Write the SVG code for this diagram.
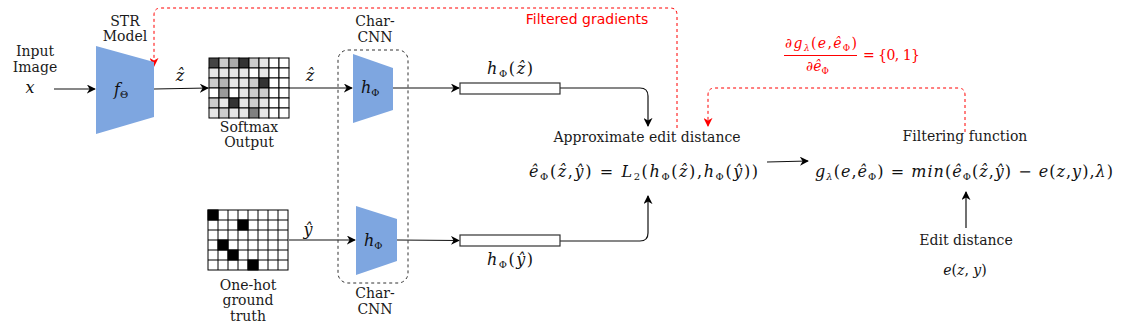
<svg xmlns="http://www.w3.org/2000/svg" width="1121" height="328" viewBox="0 0 1121 328">
<style>
.lbl{font-family:"DejaVu Serif","Liberation Serif",serif;font-size:14px;fill:#1a1a1a;text-anchor:middle}
.m{font-family:"DejaVu Serif","Liberation Serif",serif;font-size:16px;fill:#111}
.mc{text-anchor:middle}
.i{font-style:italic}
.sb{font-size:10px}
.red{fill:#ff0000}
.ln{fill:none;stroke:#111;stroke-width:1.2}
.rd{fill:none;stroke:#ff0000;stroke-width:1;stroke-dasharray:3 3}
.trap{fill:#7ea6e0}
.cell{stroke:#000;stroke-width:1}
.bar{fill:#fff;stroke:#333;stroke-width:1.2}
</style>
<defs>
<marker id="ab" viewBox="0 0 10 10" refX="9" refY="5" markerWidth="9" markerHeight="9" markerUnits="userSpaceOnUse" orient="auto"><path d="M0,0 L10,5 L0,10 L3,5 z" fill="#000"/></marker>
<marker id="ar" viewBox="0 0 10 10" refX="9" refY="5" markerWidth="9" markerHeight="9" markerUnits="userSpaceOnUse" orient="auto"><path d="M0,0 L10,5 L0,10 L3,5 z" fill="#ff0000"/></marker>
</defs>

<g id="connectors">
<path class="ln" d="M54,89 H95" marker-end="url(#ab)"/>
<path class="ln" d="M154,89 L208,88" marker-end="url(#ab)"/>
<path class="ln" d="M289,88 H352" marker-end="url(#ab)"/>
<path class="ln" d="M289,240 H355" marker-end="url(#ab)"/>
<path class="ln" d="M393,88 H459" marker-end="url(#ab)"/>
<path class="ln" d="M397,240 L459,240.5" marker-end="url(#ab)"/>
<path class="ln" d="M560,88 H640 Q648,88 648,96 V126" marker-end="url(#ab)"/>
<path class="ln" d="M560,241 H640 Q648,241 648,233 V196" marker-end="url(#ab)"/>
<path class="ln" d="M767,162 L808,161" marker-end="url(#ab)"/>
<path class="ln" d="M966,228 V192" marker-end="url(#ab)"/>
<path class="rd" d="M677,128 V15 Q677,8 670,8 H161 Q154,8 154,15 V66" marker-end="url(#ar)"/>
<path class="rd" d="M965,132 V95 Q965,88 958,88 H715 Q708,88 708,95 V126" marker-end="url(#ar)"/>
</g>

<g id="input">
<text class="lbl" x="35" y="56">Input</text>
<text class="lbl" x="35" y="72">Image</text>
<text class="m mc i" x="30" y="93">x</text>
</g>

<g id="str-model">
<text class="lbl" x="125" y="26">STR</text>
<text class="lbl" x="125" y="41">Model</text>
<polygon class="trap" points="96,46 154,62 154,117 96,134"/>
<text class="m" x="114" y="95"><tspan class="i">f</tspan><tspan class="sb" dy="3">Θ</tspan></text>
</g>

<g id="softmax">
<g class="cell">
<rect x="209" y="58" width="10" height="10" fill="#444"/><rect x="219" y="58" width="10" height="10" fill="#ccc"/><rect x="229" y="58" width="10" height="10" fill="#aaa"/><rect x="239" y="58" width="10" height="10" fill="#333"/><rect x="249" y="58" width="10" height="10" fill="#ccc"/><rect x="259" y="58" width="10" height="10" fill="#e6e6e6"/><rect x="269" y="58" width="10" height="10" fill="#fff"/><rect x="279" y="58" width="10" height="10" fill="#fff"/>
<rect x="209" y="68" width="10" height="10" fill="#e6e6e6"/><rect x="219" y="68" width="10" height="10" fill="#e6e6e6"/><rect x="229" y="68" width="10" height="10" fill="#e6e6e6"/><rect x="239" y="68" width="10" height="10" fill="#e6e6e6"/><rect x="249" y="68" width="10" height="10" fill="#fff"/><rect x="259" y="68" width="10" height="10" fill="#e6e6e6"/><rect x="269" y="68" width="10" height="10" fill="#fff"/><rect x="279" y="68" width="10" height="10" fill="#fff"/>
<rect x="209" y="78" width="10" height="10" fill="#ccc"/><rect x="219" y="78" width="10" height="10" fill="#b3b3b3"/><rect x="229" y="78" width="10" height="10" fill="#e6e6e6"/><rect x="239" y="78" width="10" height="10" fill="#e6e6e6"/><rect x="249" y="78" width="10" height="10" fill="#ccc"/><rect x="259" y="78" width="10" height="10" fill="#333"/><rect x="269" y="78" width="10" height="10" fill="#fff"/><rect x="279" y="78" width="10" height="10" fill="#fff"/>
<rect x="209" y="88" width="10" height="10" fill="#fff"/><rect x="219" y="88" width="10" height="10" fill="#999"/><rect x="229" y="88" width="10" height="10" fill="#fff"/><rect x="239" y="88" width="10" height="10" fill="#e6e6e6"/><rect x="249" y="88" width="10" height="10" fill="#ccc"/><rect x="259" y="88" width="10" height="10" fill="#ccc"/><rect x="269" y="88" width="10" height="10" fill="#fff"/><rect x="279" y="88" width="10" height="10" fill="#fff"/>
<rect x="209" y="98" width="10" height="10" fill="#ccc"/><rect x="219" y="98" width="10" height="10" fill="#e6e6e6"/><rect x="229" y="98" width="10" height="10" fill="#333"/><rect x="239" y="98" width="10" height="10" fill="#e6e6e6"/><rect x="249" y="98" width="10" height="10" fill="#ccc"/><rect x="259" y="98" width="10" height="10" fill="#e6e6e6"/><rect x="269" y="98" width="10" height="10" fill="#fff"/><rect x="279" y="98" width="10" height="10" fill="#fff"/>
<rect x="209" y="108" width="10" height="10" fill="#e6e6e6"/><rect x="219" y="108" width="10" height="10" fill="#ccc"/><rect x="229" y="108" width="10" height="10" fill="#e6e6e6"/><rect x="239" y="108" width="10" height="10" fill="#e6e6e6"/><rect x="249" y="108" width="10" height="10" fill="#808080"/><rect x="259" y="108" width="10" height="10" fill="#e6e6e6"/><rect x="269" y="108" width="10" height="10" fill="#fff"/><rect x="279" y="108" width="10" height="10" fill="#fff"/>
</g>
<text class="lbl" x="249" y="132">Softmax</text>
<text class="lbl" x="249" y="147">Output</text>
<text class="m mc i" x="180" y="81">ẑ</text>
<text class="m mc i" x="310" y="81">ẑ</text>
</g>

<g id="onehot">
<g class="cell" fill="#fff">
<rect x="208" y="210" width="80" height="60"/>
<path d="M218,210 V270 M228,210 V270 M238,210 V270 M248,210 V270 M258,210 V270 M268,210 V270 M278,210 V270 M208,220 H288 M208,230 H288 M208,240 H288 M208,250 H288 M208,260 H288" fill="none"/>
<rect x="208" y="210" width="10" height="10" fill="#000"/>
<rect x="238" y="220" width="10" height="10" fill="#000"/>
<rect x="218" y="240" width="10" height="10" fill="#000"/>
<rect x="228" y="250" width="10" height="10" fill="#000"/>
<rect x="248" y="260" width="10" height="10" fill="#000"/>
</g>
<text class="lbl" x="248" y="290">One-hot</text>
<text class="lbl" x="248" y="305">ground</text>
<text class="lbl" x="248" y="321">truth</text>
<text class="m mc i" x="308" y="235">ŷ</text>
</g>

<g id="char-cnn">
<rect x="338" y="50" width="70" height="233" rx="10" ry="10" fill="none" stroke="#333" stroke-width="1" stroke-dasharray="3 3"/>
<text class="lbl" x="375" y="26">Char-</text>
<text class="lbl" x="375" y="42">CNN</text>
<text class="lbl" x="375" y="298">Char-</text>
<text class="lbl" x="375" y="314">CNN</text>
</g>

<g id="hphi-top">
<polygon class="trap" points="353,54 393,68 393,110 353,123"/>
<text class="m" x="361" y="93"><tspan class="i">h</tspan><tspan class="sb" dy="3">Φ</tspan></text>
</g>

<g id="hphi-bottom">
<polygon class="trap" points="356,206 397,219 397,261 356,275"/>
<text class="m" x="364" y="246"><tspan class="i">h</tspan><tspan class="sb" dy="3">Φ</tspan></text>
</g>

<g id="bar-top">
<rect class="bar" x="460" y="83" width="100" height="11"/>
<text class="m" x="487" y="74" textLength="46" lengthAdjust="spacing"><tspan class="i">h</tspan><tspan class="sb" dy="3">Φ</tspan><tspan dy="-3">(</tspan><tspan class="i">ẑ</tspan>)</text>
</g>

<g id="bar-bottom">
<rect class="bar" x="460" y="235" width="100" height="11"/>
<text class="m" x="487" y="265" textLength="46" lengthAdjust="spacing"><tspan class="i">h</tspan><tspan class="sb" dy="3">Φ</tspan><tspan dy="-3">(</tspan><tspan class="i">ŷ</tspan>)</text>
</g>

<g id="approx">
<text class="lbl" x="647" y="142">Approximate edit distance</text>
<text class="m" x="529" y="177" textLength="229" lengthAdjust="spacing"><tspan class="i">ê</tspan><tspan class="sb" dy="3">Φ</tspan><tspan dy="-3">(</tspan><tspan class="i">ẑ</tspan>,<tspan class="i">ŷ</tspan>) = <tspan class="i">L</tspan><tspan class="sb" dy="3">2</tspan><tspan dy="-3">(</tspan><tspan class="i">h</tspan><tspan class="sb" dy="3">Φ</tspan><tspan dy="-3">(</tspan><tspan class="i">ẑ</tspan>),<tspan class="i">h</tspan><tspan class="sb" dy="3">Φ</tspan><tspan dy="-3">(</tspan><tspan class="i">ŷ</tspan>))</text>
</g>

<g id="filter">
<text class="lbl" x="965" y="141">Filtering function</text>
<text class="m" x="815" y="177" textLength="298" lengthAdjust="spacing"><tspan class="i">g</tspan><tspan class="sb i" dy="3">λ</tspan><tspan dy="-3">(</tspan><tspan class="i">e</tspan>,<tspan class="i">ê</tspan><tspan class="sb" dy="3">Φ</tspan><tspan dy="-3">) = </tspan><tspan class="i">min</tspan>(<tspan class="i">ê</tspan><tspan class="sb" dy="3">Φ</tspan><tspan dy="-3">(</tspan><tspan class="i">ẑ</tspan>,<tspan class="i">ŷ</tspan>) − <tspan class="i">e</tspan>(<tspan class="i">z</tspan>,<tspan class="i">y</tspan>),<tspan class="i">λ</tspan>)</text>
</g>

<g id="edit">
<text class="lbl" x="966" y="245">Edit distance</text>
<text class="m mc" x="965" y="275" style="font-size:14px"><tspan class="i">e</tspan>(<tspan class="i">z</tspan>, <tspan class="i">y</tspan>)</text>
</g>

<g id="gradients">
<text x="587" y="24" style="font-family:'DejaVu Sans','Liberation Sans',sans-serif;font-size:14px;fill:#ff0000;text-anchor:middle">Filtered gradients</text>
<text class="m red" x="785" y="48" style="font-size:14px" textLength="72" lengthAdjust="spacing">∂<tspan class="i">g</tspan><tspan class="sb i" dy="3" style="font-size:9px">λ</tspan><tspan dy="-3">(</tspan><tspan class="i">e</tspan>,<tspan class="i">ê</tspan><tspan class="sb" dy="3" style="font-size:9px">Φ</tspan><tspan dy="-3">)</tspan></text>
<line x1="784" y1="55.5" x2="857" y2="55.5" stroke="#ff0000" stroke-width="1"/>
<text class="m red" x="806" y="71" style="font-size:14px">∂<tspan class="i">ê</tspan><tspan class="sb" dy="3" style="font-size:9px">Φ</tspan></text>
<text class="m red" x="863" y="60" style="font-size:14px" textLength="57" lengthAdjust="spacing">= {0, 1}</text>
</g>
</svg>
